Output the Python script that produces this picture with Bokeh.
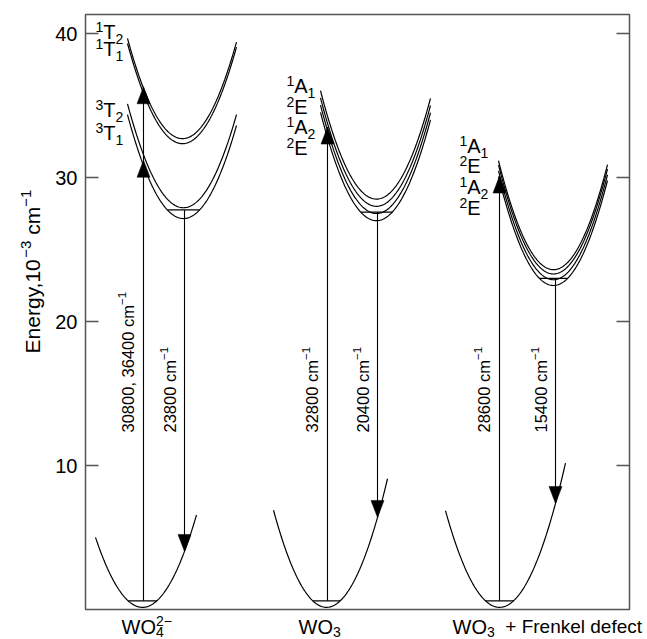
import numpy as np
from bokeh.plotting import figure
from bokeh.layouts import row, column
from bokeh.models import Range1d, LinearAxis, FixedTicker, Label
from bokeh.embed import file_html
from bokeh.resources import INLINE

# ---------------- data (energy in 10^3 cm^-1, x = configuration coordinate, arbitrary units) -------------
y_ticks = [10, 20, 30, 40]

# ground-state parabolas (WO4^2-, WO3, WO3 + Frenkel defect)
ground_center = [57, 241, 414]
ground_min = [0.15, 0.15, 0.15]
ground_k = [0.0022, 0.0024, 0.0023]
ground_left = [10, 188, 360]
ground_right = [111, 302, 480]
ground_vib = [0.6, 0.6, 0.6]

# excited-state parabola groups
ex_center = [97, 98, 291, 468]
ex_mins = [[32.35, 32.7], [27.15, 27.9], [27.0, 27.5, 28.0, 28.5], [22.5, 22.9, 23.3, 23.6]]
ex_k = [0.0023, 0.0023, 0.0024, 0.0025]
ex_left = [42, 42, 235, 413]
ex_right = [151, 151, 345, 522]
ex_vib = [None, 0.6, 0.6, 0.5]   # emitting level above the lowest curve

# absorption arrows
abs_x = [58, 242, 414]
abs_top = [36.3, 33.5, 30.1]
abs_heads = [[31.2, 36.3], [33.5], [30.1]]
abs_text = ["30800, 36400", "32800", "28600"]

# emission arrows
em_x = [99, 292, 470]
em_group = [1, 2, 3]
em_text = ["23800", "20400", "15400"]

# term labels
terms_wo4 = [("1", "T", "2"), ("1", "T", "1"), ("3", "T", "2"), ("3", "T", "1")]
terms_wo3 = [("1", "A", "1"), ("2", "E", ""), ("1", "A", "2"), ("2", "E", "")]
terms_frenkel = [("1", "A", "1"), ("2", "E", ""), ("1", "A", "2"), ("2", "E", "")]

# ---------------- layout -------------
PX = 14.4  # pixels per energy unit
FONT = "Liberation Sans"
YMAX = (609 - 14) / PX
TITLE_W = 45
TOP_H = 611
BOT_H = 639 - TOP_H
BASE_FIX = 0.35   # renderer places the alphabetic baseline ~0.35em low; compensate

p = figure(width=647 - TITLE_W, height=TOP_H, x_range=Range1d(0, 544), y_range=Range1d(0, YMAX),
           output_backend="svg", toolbar_location=None, x_axis_location=None,
           min_border_left=85 - TITLE_W, min_border_right=18, min_border_top=14, min_border_bottom=2)
p.grid.visible = False
p.outline_line_color = "#555555"
p.outline_line_width = 1.5
p.background_fill_color = "white"
p.border_fill_color = "white"

ax = p.yaxis[0]
ax.ticker = FixedTicker(ticks=y_ticks)
ax.axis_line_color = None
ax.major_tick_in = 13
ax.major_tick_out = 0
ax.minor_tick_line_color = None
ax.major_tick_line_color = "#555555"
ax.major_tick_line_width = 1.3
ax.major_label_standoff = 8
ax.major_label_text_font = FONT
ax.major_label_text_font_size = "20px"
ax.major_label_text_color = "black"

rax = LinearAxis(ticker=FixedTicker(ticks=y_ticks), axis_line_color=None, major_tick_in=13,
                 major_tick_out=0, minor_tick_line_color=None, major_tick_line_color="#555555",
                 major_tick_line_width=1.3, major_label_standoff=0,
                 major_label_overrides={t: "" for t in y_ticks})
p.add_layout(rax, "right")

LW = 1.2


def parab(c, emin, k, xl, xr, n=120):
    xs = np.linspace(xl, xr, n)
    return xs, emin + k * (xs - c) ** 2


# ground states
for i in range(3):
    xs, ys = parab(ground_center[i], ground_min[i], ground_k[i], ground_left[i], ground_right[i])
    p.line(xs, ys, line_color="black", line_width=LW)
    hw = np.sqrt((ground_vib[i] - ground_min[i]) / ground_k[i])
    p.line([ground_center[i] - hw, ground_center[i] + hw], [ground_vib[i]] * 2,
           line_color="black", line_width=LW)

# excited states
for g in range(4):
    mxs, mys = [], []
    for m in ex_mins[g]:
        xs, ys = parab(ex_center[g], m, ex_k[g], ex_left[g], ex_right[g])
        mxs.append(list(xs))
        mys.append(list(ys))
    p.multi_line(mxs, mys, line_color="black", line_width=LW)
    if ex_vib[g] is not None:
        lo = min(ex_mins[g])
        hw = np.sqrt(ex_vib[g] / ex_k[g])
        p.line([ex_center[g] - hw, ex_center[g] + hw], [lo + ex_vib[g]] * 2,
               line_color="black", line_width=LW)

HEAD_H = 17 / PX
HEAD_W = 6.5
tri_x, tri_y = [], []

# absorption arrows
for i in range(3):
    p.line([abs_x[i], abs_x[i]], [ground_vib[i], abs_top[i]], line_color="black", line_width=1.1)
    for t in abs_heads[i]:
        tri_x.append([abs_x[i] - HEAD_W, abs_x[i] + HEAD_W, abs_x[i]])
        tri_y.append([t - HEAD_H, t - HEAD_H, t])

# emission arrows
for i in range(3):
    g = em_group[i]
    start = min(ex_mins[g]) + ex_vib[g]
    end = ground_min[i] + ground_k[i] * (em_x[i] - ground_center[i]) ** 2
    p.line([em_x[i], em_x[i]], [start, end], line_color="black", line_width=1.1)
    tri_x.append([em_x[i] - HEAD_W, em_x[i] + HEAD_W, em_x[i]])
    tri_y.append([end + HEAD_H, end + HEAD_H, end])

p.patches(tri_x, tri_y, fill_color="black", line_color="black", line_width=0.5)

# ---------------- side figures for texts outside the frame -------------
ft = figure(width=TITLE_W, height=TOP_H, x_range=Range1d(0, TITLE_W), y_range=Range1d(0, TOP_H),
            output_backend="svg", toolbar_location=None, x_axis_location=None, y_axis_location=None,
            min_border=0, min_border_left=0, min_border_right=0, min_border_top=0, min_border_bottom=0)
fb = figure(width=647, height=BOT_H, x_range=Range1d(0, 647), y_range=Range1d(0, BOT_H),
            output_backend="svg", toolbar_location=None, x_axis_location=None, y_axis_location=None,
            min_border=0, min_border_left=0, min_border_right=0, min_border_top=0, min_border_bottom=0)
for f in (ft, fb):
    f.grid.visible = False
    f.outline_line_color = None
    f.background_fill_color = "white"
    f.border_fill_color = "white"

# ---------------- text helpers -------------
CW = {'0': 556, '1': 556, '2': 556, '3': 556, '4': 556, '5': 556, '6': 556, '7': 556, '8': 556,
      '9': 556, ' ': 278, ',': 278, '\u2212': 584, '+': 584, 'E': 667, 'n': 556, 'e': 556,
      'r': 333, 'g': 556, 'y': 500, 'c': 500, 'm': 833, 'W': 944, 'O': 778, 'T': 611,
      'A': 667, 'F': 611, 'k': 500, 'l': 222, 'd': 556, 'f': 278, 't': 278}


def tw(t, size):
    return sum(CW.get(ch, 556) for ch in t) * size / 1000.0


def rich(fig, x, y, segs, vertical=False):
    """segs: (text, size_px, rise_px, advance?)"""
    adv = 0.0
    for seg in segs:
        text, size, rise = seg[0], seg[1], seg[2]
        advance = seg[3] if len(seg) > 3 else True
        body = text.lstrip(" ")
        lead = tw(text[:len(text) - len(body)], size)
        r = rise + BASE_FIX * size
        if body:
            xo, yo = (-r, adv + lead) if vertical else (adv + lead, r)
            fig.add_layout(Label(x=x, y=y, text=body, x_offset=xo, y_offset=yo,
                                 angle=90 if vertical else 0, angle_units="deg",
                                 text_font=FONT, text_font_size=f"{size}px",
                                 text_align="left", text_baseline="alphabetic",
                                 text_color="black"))
        if advance:
            adv += tw(text, size)


def ey(ypx):
    return (609 - ypx) / PX


def dx(xpx):
    return xpx - 85


# term symbols
def terms(x_px, base_px, items):
    for (sup, letter, sub), b in zip(items, base_px):
        rich(p, dx(x_px), ey(b), [(sup, 14, 7), (letter, 20, 0), (sub, 14, -5)])


terms(95, [38, 55, 116, 139], terms_wo4)
terms(286, [92, 113, 133, 154], terms_wo3)
terms(459, [152, 172, 193, 214], terms_frenkel)

# rotated transition labels
TB = ey(432)
for i in range(3):
    rich(p, abs_x[i] - 10, TB, [(abs_text[i] + " cm", 16.5, 0), ("\u22121", 11.5, 7)], vertical=True)
    rich(p, em_x[i] - 9, TB, [(em_text[i] + " cm", 16.5, 0), ("\u22121", 11.5, 7)], vertical=True)

# y-axis title (left strip)
rich(ft, 39, TOP_H - 348,
     [("Energy,10", 21, 0), ("\u22123", 15, 8), (" cm", 21, 0), ("\u22121", 15, 8)], vertical=True)

# category labels (bottom strip)
LB = 639 - 633
rich(fb, 121, LB, [("WO", 20, 0), ("4", 14, -3, False), ("2\u2212", 14, 8)])
rich(fb, 298, LB, [("WO", 20, 0), ("3", 14, -3)])
rich(fb, 452, LB, [("WO", 20, 0), ("3", 14, -3), ("  + Frenkel defect", 19, 0)])

layout = column(row(ft, p, spacing=0), fb, spacing=0)
open("out.html", "w").write(file_html(layout, INLINE))
